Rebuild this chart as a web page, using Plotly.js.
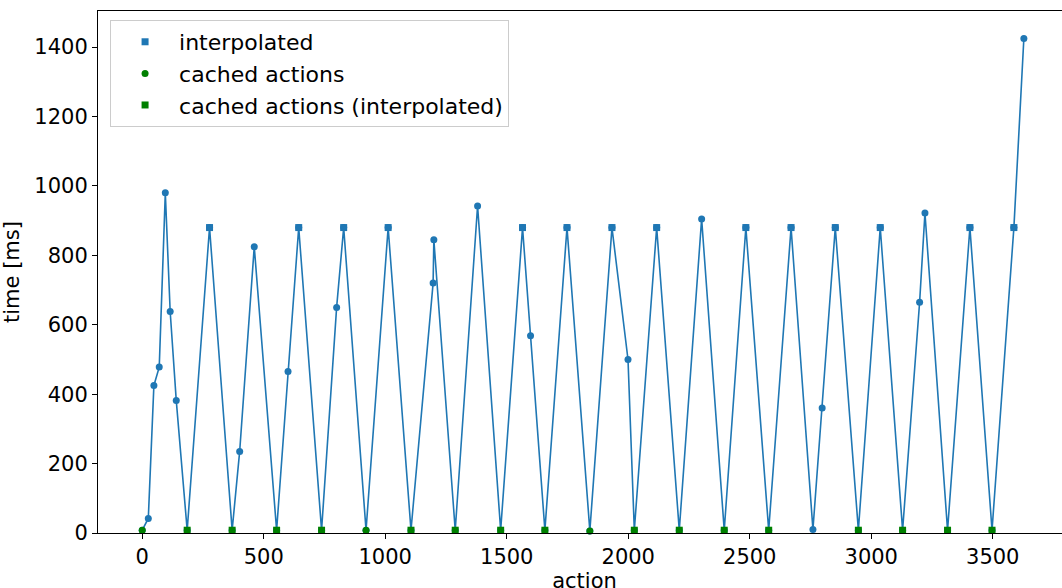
<!DOCTYPE html>
<html>
<head>
<meta charset="utf-8">
<script src="https://cdn.plot.ly/plotly-3.0.1.min.js"></script>
<style>
html, body { margin: 0; padding: 0; overflow: hidden; background: #fff; }
#chart { width: 1071px; height: 600px; }
</style>
</head>
<body>
<div id="chart"></div>
<script>
// All actions in order (the connecting line)
const actionX = [0, 25, 48, 70, 95, 115, 140, 185, 277, 370, 401, 461, 553, 600, 644, 738, 800, 829, 921, 1012, 1106, 1197, 1200, 1288, 1380, 1475, 1565, 1598, 1657, 1748, 1842, 1933, 1999, 2025, 2117, 2210, 2302, 2395, 2484, 2578, 2670, 2760, 2798, 2852, 2947, 3037, 3129, 3199, 3221, 3314, 3406, 3497, 3587, 3628];
const timeMs  = [8, 42, 425, 478, 980, 638, 382, 8, 880, 8, 235, 825, 8, 465, 880, 8, 650, 880, 8, 880, 8, 720, 845, 8, 942, 8, 880, 568, 8, 880, 6, 880, 500, 8, 880, 8, 905, 8, 880, 8, 880, 10, 360, 880, 8, 880, 8, 665, 922, 8, 880, 8, 880, 1425];

// interpolated actions
const interpX = [277, 644, 829, 1012, 1565, 1748, 1933, 2117, 2484, 2670, 2852, 3037, 3406, 3587];
const interpY = [880, 880, 880, 880, 880, 880, 880, 880, 880, 880, 880, 880, 880, 880];

// cached actions
const cachedX = [0, 921, 1842];
const cachedY = [8, 8, 6];

// cached actions (interpolated)
const cachedInterpX = [185, 370, 553, 738, 1106, 1288, 1475, 1657, 2025, 2210, 2395, 2578, 2947, 3129, 3314, 3497];
const cachedInterpY = [8, 8, 8, 8, 8, 8, 8, 8, 8, 8, 8, 8, 8, 8, 8, 8];

const xTicks = [0, 500, 1000, 1500, 2000, 2500, 3000, 3500];
const yTicks = [0, 200, 400, 600, 800, 1000, 1200, 1400];

const blue = '#1f77b4';
const green = '#008000';
const font = 'DejaVu Sans, sans-serif';

const traces = [
  {
    x: actionX, y: timeMs, type: 'scatter', mode: 'lines+markers',
    line: {color: blue, width: 1.6},
    marker: {color: blue, size: 7, symbol: 'circle'},
    showlegend: false, cliponaxis: false
  },
  {
    x: interpX, y: interpY, type: 'scatter', mode: 'markers', name: 'interpolated',
    marker: {color: blue, size: 7, symbol: 'square'}, cliponaxis: false
  },
  {
    x: cachedX, y: cachedY, type: 'scatter', mode: 'markers', name: 'cached actions',
    marker: {color: green, size: 7, symbol: 'circle'}, cliponaxis: false
  },
  {
    x: cachedInterpX, y: cachedInterpY, type: 'scatter', mode: 'markers', name: 'cached actions (interpolated)',
    marker: {color: green, size: 7, symbol: 'square'}, cliponaxis: false
  }
];

const layout = {
  width: 1071, height: 600,
  margin: {l: 98, r: 0, t: 11, b: 67},
  paper_bgcolor: '#fff', plot_bgcolor: '#fff',
  font: {family: font, size: 21, color: '#000'},
  xaxis: {
    range: [-182, 3822], tickvals: xTicks, ticktext: xTicks.map(String),
    showgrid: false, zeroline: false,
    showline: true, mirror: true, linecolor: '#000', linewidth: 1,
    ticks: 'outside', ticklen: 5, tickcolor: '#000', tickwidth: 1,
    tickfont: {family: font, size: 21, color: '#000'},
    title: {text: 'action', font: {family: font, size: 21, color: '#000'}, standoff: 2}
  },
  yaxis: {
    range: [0, 1504], tickvals: yTicks, ticktext: yTicks.map(String),
    showgrid: false, zeroline: false,
    showline: true, mirror: true, linecolor: '#000', linewidth: 1,
    ticks: 'outside', ticklen: 5, tickcolor: '#000', tickwidth: 1,
    tickfont: {family: font, size: 21, color: '#000'},
    title: {text: 'time [ms]', font: {family: font, size: 21, color: '#000'}, standoff: 8}
  },
  legend: {
    x: 0.0124, y: 0.9828, xanchor: 'left', yanchor: 'top',
    bgcolor: 'rgba(255,255,255,0.8)', bordercolor: '#cccccc', borderwidth: 1,
    font: {family: font, size: 22, color: '#000'},
    itemwidth: 58, tracegroupgap: 0
  },
  showlegend: true
};

Plotly.newPlot('chart', traces, layout, {displayModeBar: false, staticPlot: true});
</script>
</body>
</html>
